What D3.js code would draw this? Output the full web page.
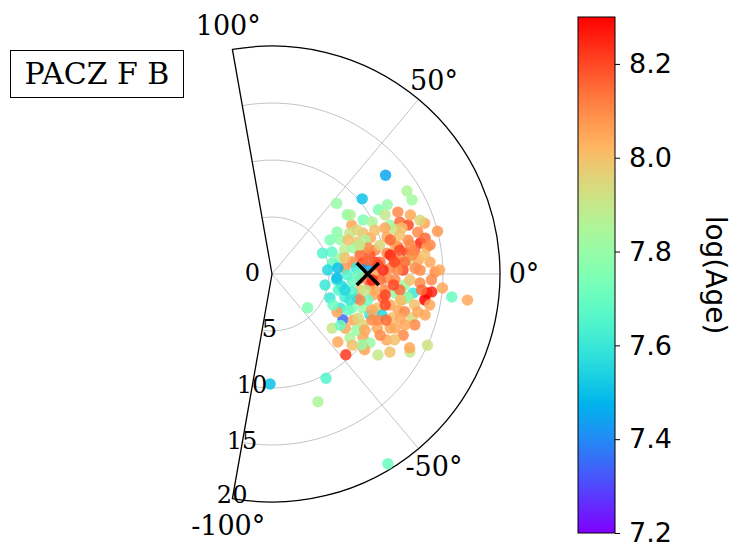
<!DOCTYPE html>
<html>
<head>
<meta charset="utf-8">
<script src="https://cdn.jsdelivr.net/npm/d3@7"></script>
<style>
  body { margin: 0; background: #fff; }
  svg { display: block; }
  .serif { font-family: "DejaVu Serif", serif; }
  .sans { font-family: "DejaVu Sans", sans-serif; }
</style>
</head>
<body>
<div class="chart"></div>
<script>
// star positions: angle (deg), radius, log(Age)
const thetaDeg = [41.0, 39.8, 31.6, 27.9, 14.5, -7.6, -7.3, -24.6, -29.5, -58.6, -70.2, -62.6, -91.0, -47.6,
  31.0, 47.5, 38.2, 30.7, 31.5, 22.5, 32.9, 27.7, 24.3, 20.2, 17.8, 26.6, 20.6, 20.1, 18.2, 17.8, 16.5, 13.1,
  12.2, 11.0, 10.3, 8.5, 13.2, 6.9, 6.3, 7.5, 4.7, 3.6, 2.9, 10.2, 0.6,
  22.1, 19.8, 18.4, 19.7, 14.0, 11.8, 9.9, 12.1, 8.8, 5.9, 5.5, 6.3, 1.7, 2.4, 0.7, 1.8,
  -5.3, -5.6, -0.8, -6.4, -2.0, -22.5, -17.5, -15.8, -11.7, -12.2, -14.7, -26.6, -23.0, -20.5, -17.9, -32.9,
  -30.3, -29.6, -22.7, -20.4, -29.3, -27.2, -24.6, -42.0, -36.5, -39.4, -34.7, -29.9, -45.9, -35.1, -38.7,
  -2.8, -4.7, -7.7, -7.0, -6.4, -9.6, -4.7, -8.8, -11.3, -10.0, -15.9, -15.9, -17.4, -19.6, -23.7, -28.2,
  -43.4, -39.3, -38.3, 22.4, -9.7, -3.5,
  -3.2, -10.3, -8.1, 6.6, 13.3, 15.0, 9.5, -3.5, 4.3, -20.1, -23.5, -33.7, -25.3, -15.2, -12.7, -2.5, 4.1,
  -9.7, 16.9, 16.0, 22.2, 27.5, 31.1, 26.2, 13.2, -2.5, -15.0, -25.0, -37.4, -33.5, 20.1, 24.1, 4.1, 9.1,
  5.2, -19.8, -15.3, -7.1, -12.2, -11.1, -27.1,
  15.2, 2.1, -5.2, -8.8, 11.9, 19.5, -16.5, -22.0, -19.0, 1.5, 12.4, 27.4, 30.4, -13.6, -31.1,
  4.9, -3.4, -0.7, -9.8, 5.6, 7.7, 7.1, -6.1, -14.6, -28.2, -29.5, -41.6, -36.9, -18.4, -26.9, -11.7, 5.2,
  37.1, 23.1, 23.1, 20.0, 10.4, 16.1, 18.2, -10.5, -11.5, -24.7, -21.0, -2.1, 1.4, -12.4, 8.3, 27.6, 10.6];

const radius = [13.2, 10.3, 13.9, 13.9, 15.0, 17.3, 15.9, 15.0, 13.9, 19.5, 11.9, 10.3, 9.65, 9.6,
  11.8, 8.4, 8.4, 9.3, 8.2, 11.2, 6.8, 7.7, 8.75, 9.2, 10.6, 6.7, 8.0, 5.6, 6.7, 7.5, 8.3, 9.3,
  7.9, 8.75, 10.25, 7.1, 6.1, 8.0, 9.5, 10.7, 6.4, 8.35, 10.4, 5.4, 9.0,
  12.1, 12.7, 14.1, 11.5, 12.3, 13.3, 13.8, 11.3, 12.0, 12.0, 12.9, 11.1, 11.5, 12.55, 14.3, 11.0,
  5.7, 7.1, 6.6, 8.65, 10.1, 5.5, 6.7, 7.75, 9.05, 9.95, 10.7, 6.7, 7.6, 8.5, 9.7, 7.4,
  6.6, 8.2, 9.3, 10.3, 9.15, 10.4, 11.4, 7.1, 8.0, 8.85, 9.7, 11.6, 8.3, 10.5, 10.2,
  10.8, 11.7, 12.5, 13.7, 14.1, 13.6, 15.0, 10.9, 11.6, 12.1, 11.5, 12.1, 12.9, 13.3, 11.8, 13.7,
  4.3, 10.5, 10.05, 4.8, 12.0, 5.7,
  9.5, 7.85, 10.0, 9.1, 11.1, 9.8, 12.7, 13.0, 13.9, 11.2, 10.1, 8.9, 7.4, 8.7, 7.2, 7.9, 7.4,
  6.2, 11.7, 13.3, 10.7, 9.9, 10.9, 12.3, 13.8, 12.1, 13.9, 12.7, 11.7, 12.4, 8.7, 7.3, 4.9, 10.5,
  11.7, 9.3, 10.3, 11.3, 12.8, 14.1, 8.5,
  8.7, 9.75, 10.7, 9.1, 12.4, 12.1, 8.05, 10.8, 11.9, 13.0, 6.55, 8.4, 5.9, 6.0, 9.5,
  9.3, 8.8, 7.55, 8.3, 10.8, 12.4, 13.5, 13.2, 13.2, 12.2, 10.9, 9.4, 7.5, 7.2, 6.0, 4.75, 5.8,
  8.6, 9.8, 13.2, 13.8, 14.1, 10.8, 8.1, 10.1, 11.5, 9.65, 12.5, 14.0, 14.7, 6.55, 8.5, 11.2, 11.4];

const logAge = [7.45, 7.5, 7.85, 7.82, 8.08, 8.05, 7.7, 7.92, 7.9, 7.7, 7.85, 7.65, 7.5, 8.22,
  7.8, 7.8, 7.78, 7.75, 8.05, 7.8, 7.78, 7.9, 8.0, 8.05, 8.05, 7.8, 7.98, 7.68, 7.88, 7.82, 7.95, 8.1,
  8.15, 8.18, 8.1, 8.1, 7.8, 8.2, 8.15, 8.05, 8.08, 7.45, 8.1, 7.7, 8.05,
  8.15, 8.2, 8.05, 7.9, 8.1, 8.25, 8.05, 8.15, 8.2, 7.9, 8.05, 8.1, 8.2, 8.1, 8.1, 8.1,
  7.6, 7.7, 7.65, 8.2, 8.1, 7.6, 7.62, 7.4, 8.05, 8.15, 8.05, 7.6, 7.75, 7.8, 8.0, 7.35,
  8.05, 8.05, 7.6, 7.55, 7.95, 8.05, 8.05, 7.9, 8.05, 7.85, 8.05, 8.05, 8.05, 7.8, 8.05,
  8.1, 7.8, 7.6, 8.28, 8.25, 8.3, 8.05, 7.8, 8.05, 7.95, 8.05, 8.1, 7.95, 8.1, 8.05, 8.05,
  7.75, 8.05, 7.8, 7.65, 7.75, 7.5,
  8.15, 8.0, 8.1, 8.2, 8.05, 7.95, 8.15, 8.1, 8.05, 8.0, 8.1, 7.8, 7.7, 7.7, 7.65, 8.1, 7.6,
  7.55, 8.0, 8.1, 8.05, 7.85, 7.75, 8.1, 8.15, 8.0, 8.05, 8.1, 7.9, 8.0, 7.85, 8.0, 7.55, 8.25,
  8.15, 8.05, 8.2, 8.15, 8.0, 8.05, 7.95,
  8.1, 8.25, 8.2, 8.05, 8.1, 8.0, 8.1, 8.15, 8.05, 8.1, 8.0, 7.95, 7.75, 7.65, 8.05,
  8.2, 8.25, 7.7, 7.9, 8.2, 8.1, 8.0, 8.15, 8.05, 8.0, 8.1, 8.0, 7.7, 7.6, 7.7, 7.6, 7.5,
  7.85, 8.0, 8.05, 7.95, 8.1, 8.15, 7.9, 8.2, 8.0, 8.1, 8.05, 8.1, 8.05, 7.55, 8.15, 7.9, 8.2];

// cluster centre marker
const centreTheta = [0];
const centreR = [8.4];

const angleTicks = [-100, -50, 0, 50, 100];
const radiusTicks = [0, 5, 10, 15, 20];
const ageTicks = [7.2, 7.4, 7.6, 7.8, 8.0, 8.2];
const panelLabel = "PACZ F B";
const cbarTitle = "log(Age)";

const W = 735, H = 549;
const cx = 272, cy = 274, R = 228;

const svg = d3.select(".chart").append("svg").attr("width", W).attr("height", H);

let rScale = d3.scaleLinear().domain([0, 20]).range([0, R]);
let aScale = d3.scaleLinear().domain([-180, 180]).range([-Math.PI, Math.PI]);

// matplotlib "rainbow" colormap
const rainbow = t => {
  const cl = v => Math.max(0, Math.min(1, v));
  return d3.rgb(255 * cl(Math.abs(2 * t - 0.5)), 255 * cl(Math.sin(Math.PI * t)), 255 * cl(Math.cos(Math.PI * t / 2))).formatHex();
};
let color = d3.scaleSequential(rainbow).domain([7.2, 8.3]);

const px = (th, r) => cx + rScale(r) * Math.cos(aScale(th));
const py = (th, r) => cy - rScale(r) * Math.sin(aScale(th));

// grid circles
svg.append("g").selectAll("path")
  .data(radiusTicks.slice(1, -1))
  .enter().append("path")
  .attr("d", d => {
    const p = d3.path();
    p.arc(cx, cy, rScale(d), -aScale(100), -aScale(-100), false);
    return p.toString();
  })
  .attr("fill", "none").attr("stroke", "#c4c4c4").attr("stroke-width", 1);

// radial grid lines
svg.append("g").selectAll("line")
  .data(angleTicks.slice(1, -1))
  .enter().append("line")
  .attr("x1", cx).attr("y1", cy)
  .attr("x2", d => px(d, 20)).attr("y2", d => py(d, 20))
  .attr("stroke", "#c4c4c4").attr("stroke-width", 1);

// frame of the wedge
const frame = d3.path();
frame.moveTo(cx, cy);
frame.lineTo(px(100, 20), py(100, 20));
frame.arc(cx, cy, rScale(20), -aScale(100), -aScale(-100), false);
frame.closePath();
svg.append("path").attr("d", frame.toString())
  .attr("fill", "none").attr("stroke", "#000").attr("stroke-width", 1.3);

// stars
const idx = d3.range(thetaDeg.length);
svg.append("g").selectAll("circle")
  .data(idx)
  .enter().append("circle")
  .attr("cx", i => px(thetaDeg[i], radius[i]))
  .attr("cy", i => py(thetaDeg[i], radius[i]))
  .attr("r", 5.7)
  .attr("fill", i => color(logAge[i]))
  .attr("fill-opacity", 0.85);

// centre X
const cX = px(centreTheta[0], centreR[0]), cY = py(centreTheta[0], centreR[0]);
const s = 11;
svg.append("path")
  .attr("d", `M${cX - s},${cY - s}L${cX + s},${cY + s}M${cX - s},${cY + s}L${cX + s},${cY - s}`)
  .attr("stroke", "#000").attr("stroke-width", 3.5).attr("fill", "none");

// angle labels
svg.append("g").selectAll("text")
  .data(angleTicks)
  .enter().append("text")
  .attr("class", "serif")
  .attr("x", d => cx + (R + 24) * Math.cos(aScale(d)))
  .attr("y", d => cy - (R + 24) * Math.sin(aScale(d)) + (d === -100 ? 13 : 9))
  .attr("text-anchor", "middle")
  .attr("font-size", 27)
  .text(d => d + "°");

// radius labels along the -100° edge
svg.append("g").selectAll("text")
  .data(radiusTicks)
  .enter().append("text")
  .attr("class", "serif")
  .attr("x", d => d === 0 ? px(-100, d) - 12 : px(-100, d) + 15)
  .attr("y", d => py(-100, d) + (d === 20 ? 4 : 7))
  .attr("text-anchor", "end")
  .attr("font-size", 24)
  .text(d => d);

// panel label box
svg.append("rect").attr("x", 10.5).attr("y", 50.5).attr("width", 173).attr("height", 47)
  .attr("fill", "#fff").attr("stroke", "#000").attr("stroke-width", 1);
svg.append("text").attr("class", "serif")
  .attr("x", 97).attr("y", 84).attr("text-anchor", "middle").attr("font-size", 30)
  .text(panelLabel);

// colorbar
const cbX = 578, cbW = 37;
let cScale = d3.scaleLinear().domain([7.2, 8.3]).range([533, 17]);
const grad = svg.append("defs").append("linearGradient")
  .attr("id", "cb").attr("x1", 0).attr("y1", 1).attr("x2", 0).attr("y2", 0);
grad.selectAll("stop").data(d3.range(0, 1.0001, 0.05))
  .enter().append("stop")
  .attr("offset", d => d)
  .attr("stop-color", d => color(7.2 + d * 1.1));
svg.append("rect").attr("x", cbX).attr("y", 17).attr("width", cbW).attr("height", 516)
  .attr("fill", "url(#cb)").attr("stroke", "#000").attr("stroke-width", 1);

const cAxis = d3.axisRight(cScale).tickValues(ageTicks).tickSize(5).tickPadding(9)
  .tickFormat(d3.format(".1f"));
svg.append("g").attr("class", "axis sans")
  .attr("transform", `translate(${cbX + cbW}, 0)`)
  .call(cAxis)
  .call(g => g.select(".domain").remove())
  .call(g => g.selectAll("text").attr("font-size", 27).attr("font-family", "DejaVu Sans, sans-serif").attr("fill", "#000"));

svg.append("text").attr("class", "sans")
  .attr("transform", "translate(706, 275) rotate(90)")
  .attr("text-anchor", "middle").attr("font-size", 28)
  .text(cbarTitle);
</script>
</body>
</html>
